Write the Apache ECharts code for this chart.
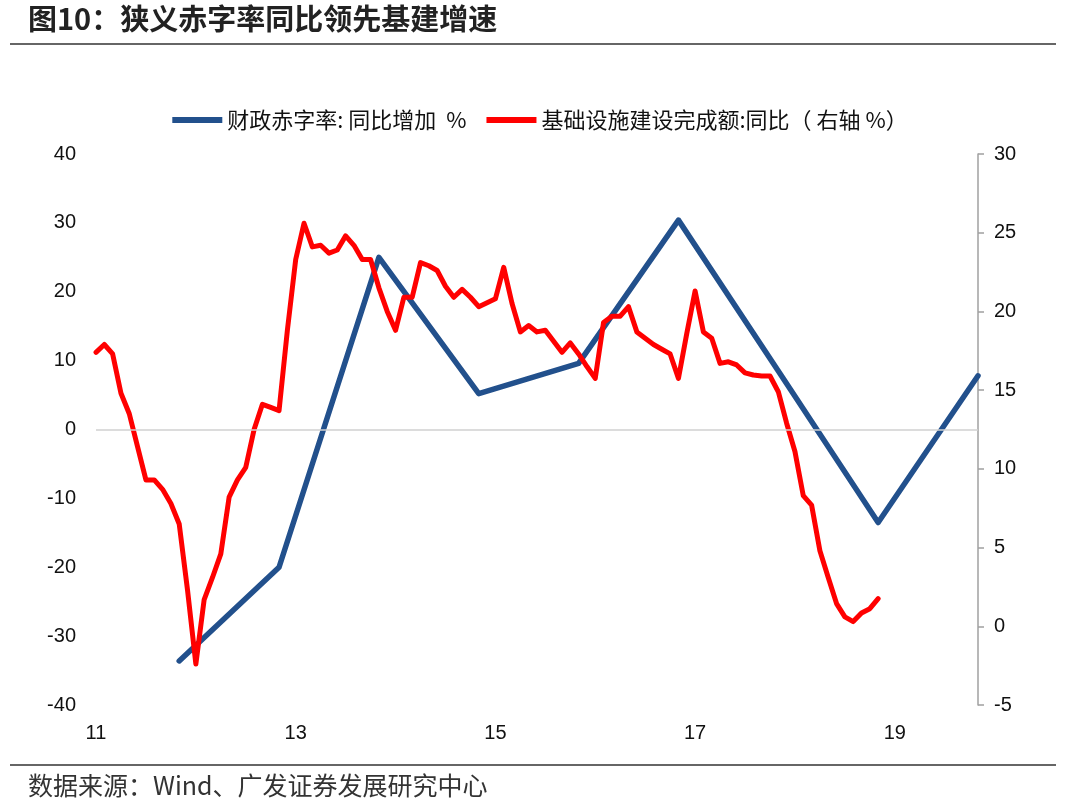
<!DOCTYPE html>
<html><head><meta charset="utf-8">
<script src="https://cdn.jsdelivr.net/npm/echarts@6/dist/echarts.min.js"></script>
<style>html,body{margin:0;padding:0;background:#fff}#c{width:1080px;height:811px}</style>
</head><body><div id="c"></div>
<script>
// Monthly categories 2011-01 .. 2019-11
const startYear = 2011, endYear = 2019, endMonth = 11;
const months = [];
for (let y = startYear; y <= endYear; y++) {
  for (let m = 1; m <= 12; m++) {
    if (y === endYear && m > endMonth) break;
    months.push(y + '-' + (m < 10 ? '0' + m : m));
  }
}
const xTickLabels = ['2011-01', '2013-01', '2015-01', '2017-01', '2019-01'];

// 财政赤字率:同比增加 % (left axis), annual points
const deficitDates = ['2011-11','2012-11','2013-11','2014-11','2015-11','2016-11','2017-11','2018-11','2019-11'];
const deficitValues = [-33.6, -20.0, 25.0, 5.2, 9.6, 30.4, 8.5, -13.5, 7.8];

// 基础设施建设完成额:同比 (right axis), monthly from 2011-01
const infraValues = [
  17.4, 17.9, 17.3, 14.8, 13.5, 11.4, 9.3, 9.3, 8.7, 7.8, 6.5, 2.3,
  -2.4, 1.7, 3.1, 4.6, 8.2, 9.3, 10.1, 12.5, 14.1, 13.9, 13.7, 18.8,
  23.3, 25.6, 24.1, 24.2, 23.7, 23.9, 24.8, 24.2, 23.3, 23.3, 21.5, 20.0,
  18.8, 20.9, 20.9, 23.1, 22.9, 22.6, 21.6, 20.9, 21.4, 20.9, 20.3, 20.55,
  20.8, 22.8, 20.5, 18.7, 19.1, 18.7, 18.8, 18.1, 17.4, 18.0, 17.3, 16.5,
  15.75, 19.3, 19.7, 19.7, 20.3, 18.7, 18.3, 17.9, 17.6, 17.3, 15.75, 18.6,
  21.3, 18.7, 18.3, 16.7, 16.8, 16.6, 16.1, 15.96, 15.9, 15.9, 14.9, 12.9,
  11.1, 8.3, 7.7, 4.8, 3.1, 1.44, 0.6, 0.3, 0.85, 1.12, 1.76
];

const leftTicks = {min: -40, max: 40, interval: 10};
const rightTicks = {min: -5, max: 30, interval: 5};

const seriesNames = ['财政赤字率: 同比增加  %', '基础设施建设完成额:同比（ 右轴 %）'];

const chart = echarts.init(document.getElementById('c'));
const numFont = "'Liberation Sans', Arial, sans-serif";
const cjkFont = "'Noto Sans CJK SC', sans-serif";

chart.setOption({
  backgroundColor: '#fff',
  animation: false,
  grid: {left: 96, right: 102, top: 154, bottom: 106},
  legend: {
    top: 104, left: 'center',
    itemWidth: 50, itemHeight: 6, itemGap: 20,
    icon: 'rect',
    textStyle: {fontFamily: cjkFont, fontSize: 22, color: '#111'},
    data: seriesNames
  },
  xAxis: {
    type: 'category', data: months, boundaryGap: false,
    axisLine: {show: false}, axisTick: {show: false}, splitLine: {show: false},
    axisLabel: {
      interval: (i, v) => xTickLabels.indexOf(v) >= 0,
      formatter: v => v.slice(2, 4),
      fontFamily: numFont, fontSize: 20, color: '#111', margin: 18
    }
  },
  yAxis: [
    {type: 'value', min: leftTicks.min, max: leftTicks.max, interval: leftTicks.interval,
     axisLine: {show: false}, axisTick: {show: false}, splitLine: {show: false},
     axisLabel: {fontFamily: numFont, fontSize: 20, color: '#111', margin: 20}},
    {type: 'value', position: 'right', min: rightTicks.min, max: rightTicks.max, interval: rightTicks.interval,
     axisLine: {show: true, lineStyle: {color: '#a0a0a0', width: 1.5}},
     axisTick: {show: true, inside: false, length: 6, lineStyle: {color: '#a0a0a0', width: 1.5}},
     splitLine: {show: false},
     axisLabel: {fontFamily: numFont, fontSize: 20, color: '#111', margin: 16}}
  ],
  series: [
    {name: seriesNames[0], type: 'line', yAxisIndex: 0,
     data: deficitDates.map((d, i) => [d, deficitValues[i]]),
     showSymbol: false, symbol: 'none', connectNulls: true,
     lineStyle: {color: '#22508c', width: 5.5, cap: 'round', join: 'round'},
     itemStyle: {color: '#22508c'}, z: 3,
     markLine: {silent: true, symbol: 'none', label: {show: false},
       lineStyle: {color: '#d0d0d0', width: 1.5, type: 'solid'},
       data: [{yAxis: 0}]}},
    {name: seriesNames[1], type: 'line', yAxisIndex: 1,
     data: infraValues,
     showSymbol: false, symbol: 'none',
     lineStyle: {color: '#ff0000', width: 5, cap: 'round', join: 'round'},
     itemStyle: {color: '#ff0000'}, z: 4}
  ],
  graphic: [
    {type: 'text', left: 28, top: 4, style: {text: '图10：狭义赤字率同比领先基建增速', font: 'bold 29px ' + cjkFont, fill: '#222'}},
    {type: 'line', shape: {x1: 10, y1: 44, x2: 1056, y2: 44}, style: {stroke: '#333', lineWidth: 1.5}},
    {type: 'line', shape: {x1: 10, y1: 765, x2: 1056, y2: 765}, style: {stroke: '#333', lineWidth: 1.5}},
    {type: 'text', left: 28, top: 773, style: {text: '数据来源：Wind、广发证券发展研究中心', font: '25px ' + cjkFont, fill: '#333'}}
  ]
});
</script></body></html>
